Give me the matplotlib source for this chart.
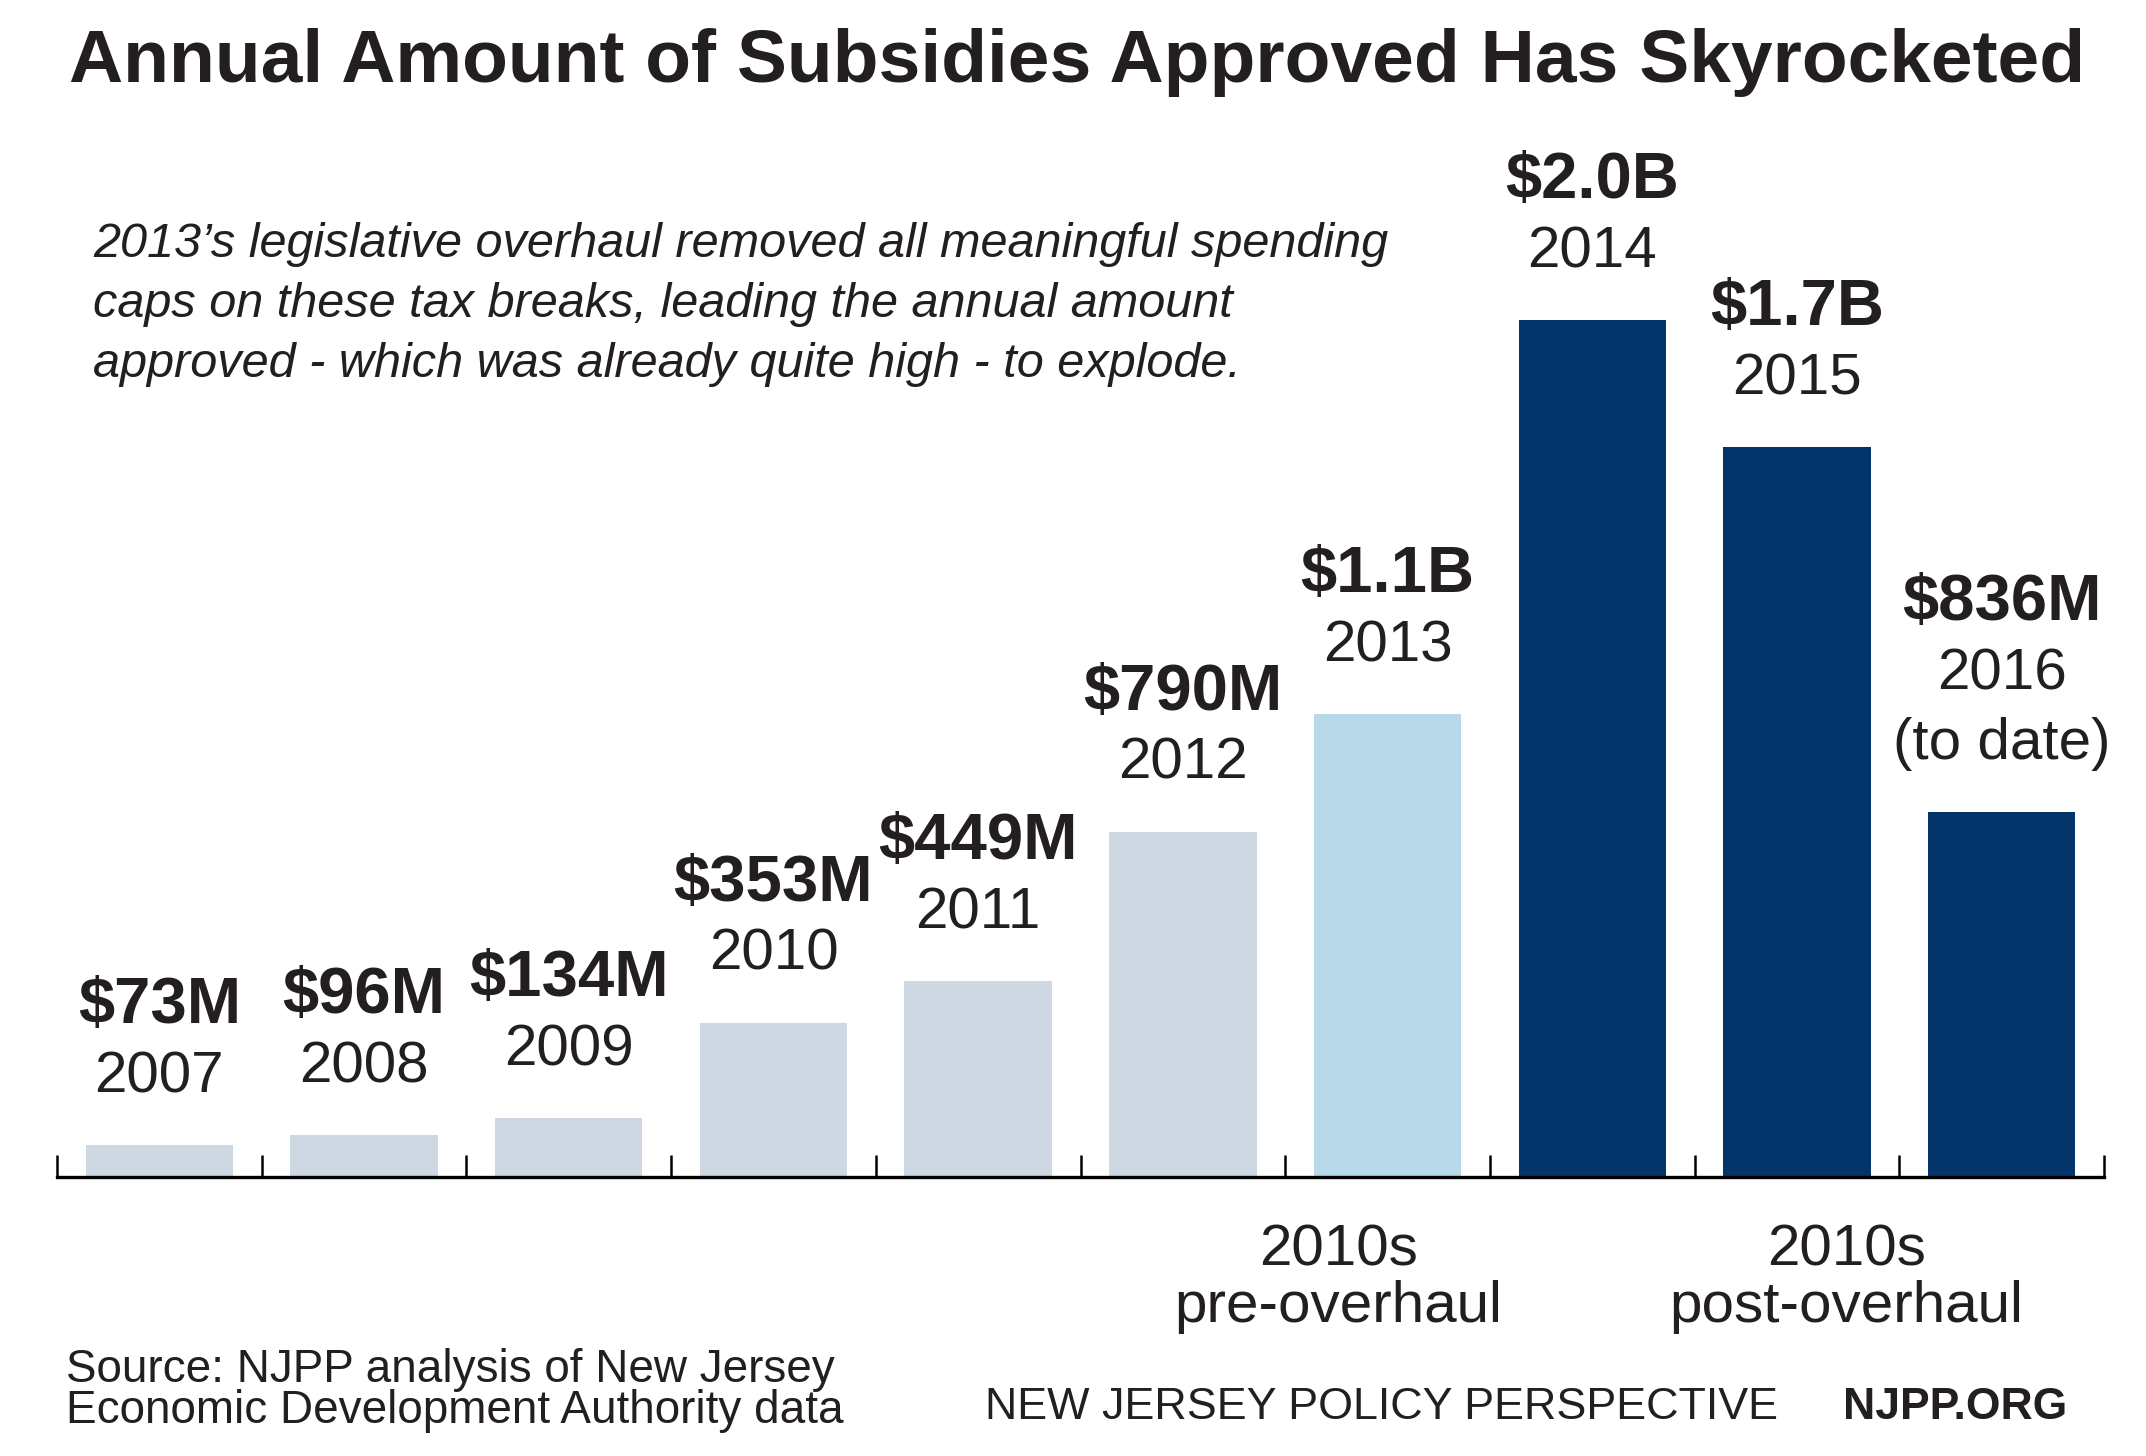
import matplotlib
matplotlib.use('Agg')
import matplotlib.pyplot as plt

# Data (millions of dollars)
years = ['2007', '2008', '2009', '2010', '2011', '2012', '2013', '2014', '2015', '2016\n(to date)']
values = [73, 96, 134, 353, 449, 790, 1060, 1960, 1670, 836]
value_labels = ['$73M', '$96M', '$134M', '$353M', '$449M', '$790M', '$1.1B', '$2.0B', '$1.7B', '$836M']
periods = ['pre', 'pre', 'pre', 'pre', 'pre', 'pre', 'pre_overhaul', 'post', 'post', 'post']

group_labels = ['2010s\npre-overhaul', '2010s\npost-overhaul']
group_pos = [6.26, 8.74]

note = ["2013\u2019s legislative overhaul removed all meaningful spending",
        "caps on these tax breaks, leading the annual amount",
        "approved - which was already quite high - to explode."]

colors = {'pre': '#cdd8e3', 'pre_overhaul': '#b8d9e9', 'post': '#03356a'}
txt = '#231f20'

plt.rcParams['font.family'] = ['Liberation Sans', 'DejaVu Sans']

W, H = 2146, 1456
fig = plt.figure(figsize=(W / 100, H / 100), dpi=100)


def fx(px):
    return px / W


def fy(py):
    return 1 - py / H


# axes: baseline at y=1177px, x from 57 to 2104 px
ymax = 2400
ax = fig.add_axes([fx(57), fy(1177), fx(2104) - fx(57), ymax * 0.437 / H])

xs = [i + 0.5 for i in range(len(values))]
ax.bar(xs, values, width=0.72, color=[colors[p] for p in periods], zorder=1)

ax.set_xlim(0, len(values))
ax.set_ylim(0, ymax)
ax.set_xticks(range(len(values) + 1))
ax.set_xticklabels([])
ax.set_yticks([])
for s in ['left', 'right', 'top']:
    ax.spines[s].set_visible(False)
ax.spines['bottom'].set_linewidth(2.4)
ax.spines['bottom'].set_color('black')
ax.tick_params(axis='x', direction='in', length=16, width=1.8, color='black')

# labels above bars
for x, v, lab, yr in zip(xs, values, value_labels, years):
    lines = yr.split('\n')
    off = 38
    for line in reversed(lines):
        ax.annotate(line, (x, v), xytext=(0, off), textcoords='offset points',
                    ha='center', va='baseline', fontsize=42, color=txt)
        off += 50
    ax.annotate(lab, (x, v), xytext=(0, off), textcoords='offset points',
                ha='center', va='baseline', fontsize=47, fontweight='bold', color=txt)

# group labels under the axis
for gx, g in zip(group_pos, group_labels):
    top, bottom = g.split('\n')
    ax.annotate(top, (gx, fy(1266)), xycoords=('data', 'figure fraction'),
                ha='center', va='baseline', fontsize=42, color=txt)
    ax.annotate(bottom, (gx, fy(1322)), xycoords=('data', 'figure fraction'),
                ha='center', va='baseline', fontsize=42, color=txt)

# title
fig.text(0.502, fy(82), 'Annual Amount of Subsidies Approved Has Skyrocketed',
         ha='center', va='baseline', fontsize=54, fontweight='bold', color=txt)

# note
for i, line in enumerate(note):
    fig.text(fx(93), fy(257 + 60 * i), line, ha='left', va='baseline',
             fontsize=35, style='italic', color=txt)

# footer
fig.text(fx(66), fy(1382), 'Source: NJPP analysis of New Jersey', ha='left', va='baseline',
         fontsize=33, color=txt)
fig.text(fx(66), fy(1423), 'Economic Development Authority data', ha='left', va='baseline',
         fontsize=33, color=txt)
fig.text(fx(985), fy(1419), 'NEW JERSEY POLICY PERSPECTIVE', ha='left', va='baseline',
         fontsize=32.3, color=txt)
fig.text(fx(1843), fy(1419), 'NJPP.ORG', ha='left', va='baseline',
         fontsize=32, fontweight='bold', color=txt)

fig.savefig('out.png', dpi=100)
